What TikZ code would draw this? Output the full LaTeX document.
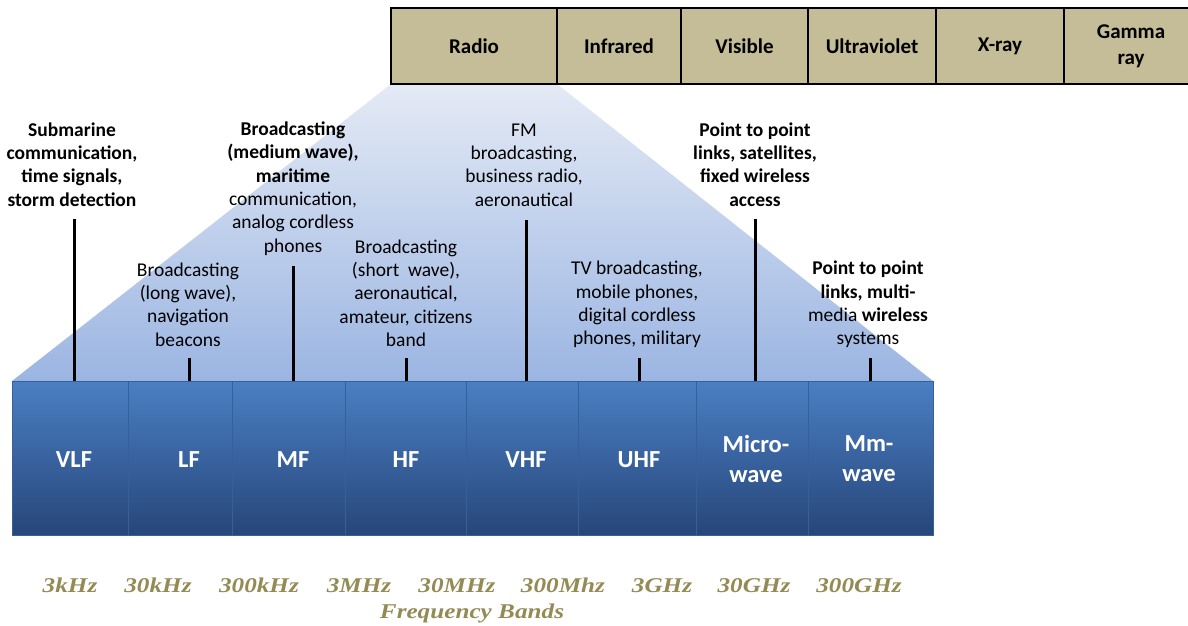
\documentclass[tikz,border=0pt]{standalone}
\usepackage{fontspec}
\setmainfont{Carlito}
\newfontfamily\freqfont{Liberation Serif}
\usetikzlibrary{backgrounds}
\definecolor{tanfill}{HTML}{C4BD97}
\definecolor{freqcol}{HTML}{948A54}
\definecolor{fanTop}{HTML}{E4EAF5}
\definecolor{fanBot}{HTML}{9BB5E2}
\definecolor{bandTop}{HTML}{4A7FC3}
\definecolor{bandBot}{HTML}{27467A}
\definecolor{bandLine}{HTML}{36609A}
\begin{document}
\begin{tikzpicture}[x=1pt,y=-1pt,
  specbox/.style={draw=black, line width=1.1pt, fill=tanfill, minimum height=76pt,
    inner sep=0pt, outer sep=0pt, anchor=north west, align=center,
    font=\fontsize{21}{25}\selectfont\bfseries},
  bandbox/.style={draw=bandLine, line width=0.7pt, top color=bandTop, bottom color=bandBot,
    minimum height=154pt, inner sep=0pt, outer sep=0pt, anchor=north west},
  bandtxt/.style={text=white, align=center, inner sep=0pt,
    font=\fontsize{24.5}{30}\selectfont\bfseries},
  usetxt/.style={align=center, inner sep=0pt, font=\fontsize{19.5}{23.3}\selectfont},
  usebold/.style={usetxt, font=\fontsize{19.5}{23.3}\selectfont\bfseries},
  freqtxt/.style={text=freqcol, inner sep=0pt, anchor=base,
    font=\fontsize{21}{22}\selectfont\freqfont\bfseries\itshape},
  tick/.style={line width=3pt}
]
\useasboundingbox (0,0) rectangle (1188,626);

% electromagnetic spectrum strip
\node[specbox, minimum width=166pt] (radio) at (391,8) {Radio};
\node[specbox, minimum width=124pt] (ir)    at (557,8) {Infrared};
\node[specbox, minimum width=127pt] (vis)   at (681,8) {Visible};
\node[specbox, minimum width=128pt] (uv)    at (808,8) {Ultraviolet};
\node[specbox, minimum width=128pt] (xray)  at (936,8) {X-ray};
\node[specbox, minimum width=134pt] (gamma) at (1064,8) {Gamma\\[1pt]ray};

% radio frequency bands
\node[bandbox, minimum width=116pt] (vlf) at (12,381) {};
\node[bandbox, minimum width=104pt] (lf)  at (128,381) {};
\node[bandbox, minimum width=113pt] (mf)  at (232,381) {};
\node[bandbox, minimum width=121pt] (hf)  at (345,381) {};
\node[bandbox, minimum width=112pt] (vhf) at (466,381) {};
\node[bandbox, minimum width=118pt] (uhf) at (578,381) {};
\node[bandbox, minimum width=112pt] (mw)  at (696,381) {};
\node[bandbox, minimum width=125pt] (mmw) at (808,381) {};

\node[bandtxt] (vlft) at (74,460)  {VLF};
\node[bandtxt] (lft)  at (189,460) {LF};
\node[bandtxt] (mft)  at (293,460) {MF};
\node[bandtxt] (hft)  at (406,460) {HF};
\node[bandtxt] (vhft) at (526,460) {VHF};
\node[bandtxt] (uhft) at (639,460) {UHF};
\node[bandtxt] (mwt)  at (756,459) {Micro-\\wave};
\node[bandtxt] (mmwt) at (869,459) {Mm-\\wave};

% zoom fan from the radio box down to the bands
\begin{scope}[on background layer]
  \shade[top color=fanTop, bottom color=fanBot]
    (radio.south west) -- (radio.south east) -- (mmw.north east) -- (vlf.north west) -- cycle;
\end{scope}

% applications of each band
\node[usebold] (a1) at (72,164.5) {Submarine\\communication,\\time signals,\\storm detection};
\node[usetxt]  (a2) at (188,304.5) {Broadcasting\\(long wave),\\navigation\\beacons};
\node[usetxt]  (a3) at (293,188.5) {\textbf{Broadcasting}\\\textbf{(medium wave),}\\\textbf{maritime}\\communication,\\analog cordless\\phones};
\node[usetxt]  (a4) at (406,293) {Broadcasting\\(short\ \ wave),\\aeronautical,\\amateur, citizens\\band};
\node[usetxt]  (a5) at (524,165) {FM\\broadcasting,\\business radio,\\aeronautical};
\node[usetxt]  (a6) at (637,304.5) {TV broadcasting,\\mobile phones,\\digital cordless\\phones, military};
\node[usebold] (a7) at (755,164.5) {Point to point\\links, satellites,\\fixed wireless\\access};
\node[usetxt]  (a8) at (868,304.5) {\textbf{Point to point}\\\textbf{links, multi-}\\media \textbf{wireless}\\systems};

% pointer lines from the applications to their bands
\coordinate (t1) at (74,219);
\coordinate (t2) at (189,358);
\coordinate (t3) at (293,266);
\coordinate (t4) at (406,358);
\coordinate (t5) at (526,220);
\coordinate (t6) at (639,358);
\coordinate (t7) at (755,219);
\coordinate (t8) at (870,358);
\draw[tick] (t1) -- (t1 |- vlf.north);
\draw[tick] (t2) -- (t2 |- lf.north);
\draw[tick] (t3) -- (t3 |- mf.north);
\draw[tick] (t4) -- (t4 |- hf.north);
\draw[tick] (t5) -- (t5 |- vhf.north);
\draw[tick] (t6) -- (t6 |- uhf.north);
\draw[tick] (t7) -- (t7 |- mw.north);
\draw[tick] (t8) -- (t8 |- mmw.north);

% band edge frequencies
\node[freqtxt] (f1) at (70,592)  {\scalebox{1.2}[1]{3kHz}};
\node[freqtxt] (f2) at (158,592) {\scalebox{1.2}[1]{30kHz}};
\node[freqtxt] (f3) at (259,592) {\scalebox{1.2}[1]{300kHz}};
\node[freqtxt] (f4) at (359,592) {\scalebox{1.2}[1]{3MHz}};
\node[freqtxt] (f5) at (457,592) {\scalebox{1.2}[1]{30MHz}};
\node[freqtxt] (f6) at (563,592) {\scalebox{1.2}[1]{300Mhz}};
\node[freqtxt] (f7) at (662,592) {\scalebox{1.2}[1]{3GHz}};
\node[freqtxt] (f8) at (754,592) {\scalebox{1.2}[1]{30GHz}};
\node[freqtxt] (f9) at (859,592) {\scalebox{1.2}[1]{300GHz}};
\node[freqtxt] (fb) at (472,618) {\scalebox{1.2}[1]{Frequency Bands}};
\end{tikzpicture}
\end{document}
